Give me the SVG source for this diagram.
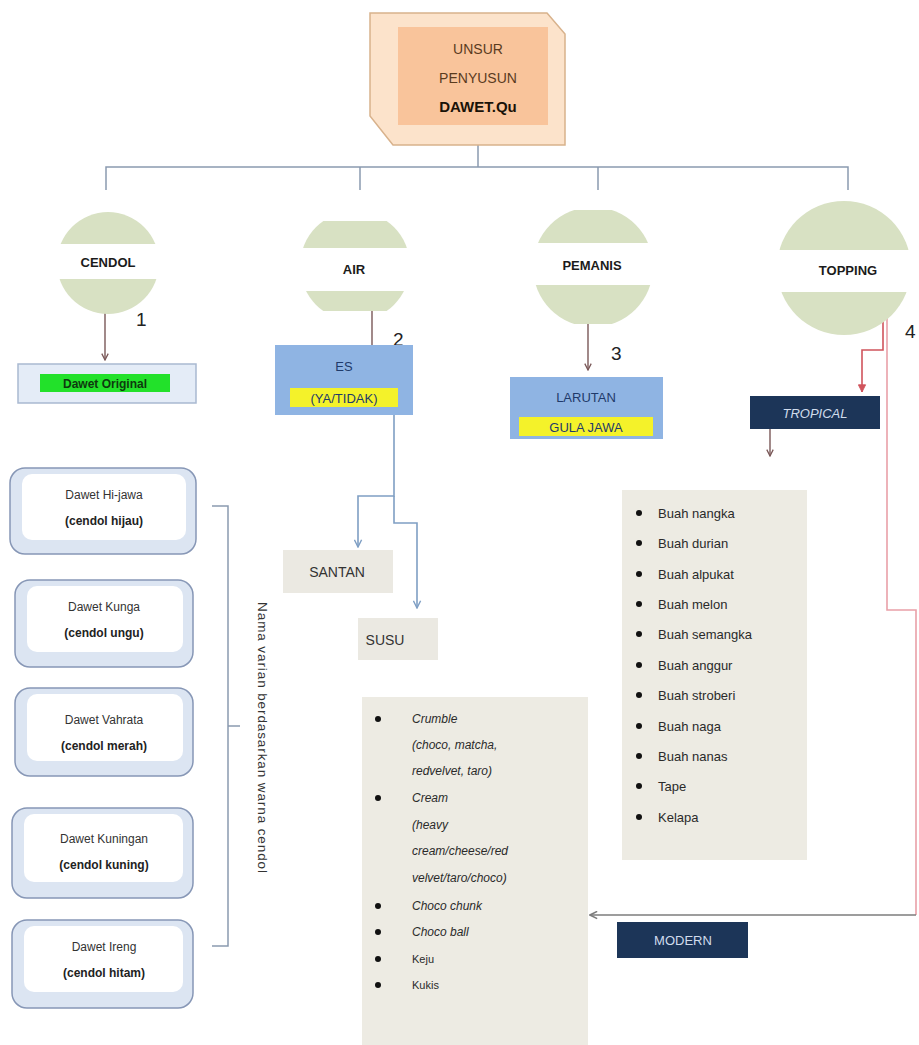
<svg xmlns="http://www.w3.org/2000/svg" width="919" height="1045" viewBox="0 0 919 1045">
  <defs>
    <style>
      text { font-family: "Liberation Sans", "Noto Sans", Arial, sans-serif; }
      .hdr { font-size: 14px; fill: #5a3b1e; text-anchor: middle; }
      .hdrb { font-size: 15px; font-weight: bold; fill: #1a1208; text-anchor: middle; }
      .clab { font-size: 13px; font-weight: bold; fill: #1b1b1b; text-anchor: middle; }
      .num { font-size: 19px; fill: #222; }
      .var1 { font-size: 12px; fill: #333; text-anchor: middle; }
      .var2 { font-size: 12px; font-weight: bold; fill: #222; text-anchor: middle; }
      .li { font-size: 13px; fill: #2a2a2a; }
      .lim { font-size: 12px; fill: #2a2a2a; font-style: italic; }
      .lis { font-size: 11px; fill: #2a2a2a; }
      .dot { fill: #111; }
      .circ { fill: #d8e1c3; }
      .band { fill: #ffffff; }
      .tree { fill: none; stroke: #8a9ab0; stroke-width: 1.5; }
      .arr { fill: none; stroke: #7a5858; stroke-width: 1.4; }
      .blue { fill: none; stroke: #7f9fc4; stroke-width: 1.6; }
      .red { fill: none; stroke: #d0545c; stroke-width: 1.6; }
      .pink { fill: none; stroke: #e9a0a8; stroke-width: 1.6; }
      .grey { fill: none; stroke: #7d7d7d; stroke-width: 1.6; }
      .vbox { fill: #dce5f2; stroke: #8797b6; stroke-width: 1.5; }
      .vin { fill: #ffffff; }
      .list { fill: #edebe3; }
      .navy { fill: #1c3558; }
      .navyt { font-size: 13px; fill: #d0dcec; text-anchor: middle; }
      .bluebox { fill: #8fb4e3; }
      .bt { font-size: 13px; fill: #1f3a6a; text-anchor: middle; }
      .hl { fill: #f4f22a; }
      .sbox { fill: #ebe9e2; }
      .st { font-size: 14px; fill: #333; text-anchor: middle; }
    </style>
    <marker id="ah" viewBox="0 0 10 10" refX="9" refY="5" markerWidth="8" markerHeight="8" orient="auto-start-reverse" markerUnits="userSpaceOnUse">
      <path d="M1,1 L9,5 L1,9" fill="none" stroke="#7a5858" stroke-width="1.6"/>
    </marker>
    <marker id="ahb" viewBox="0 0 10 10" refX="9" refY="5" markerWidth="9" markerHeight="9" orient="auto" markerUnits="userSpaceOnUse">
      <path d="M1,1 L9,5 L1,9" fill="none" stroke="#7f9fc4" stroke-width="1.6"/>
    </marker>
    <marker id="ahr" viewBox="0 0 10 10" refX="9" refY="5" markerWidth="9" markerHeight="9" orient="auto" markerUnits="userSpaceOnUse">
      <path d="M1,1 L9,5 L1,9 Z" fill="#d0545c" stroke="#d0545c" stroke-width="1"/>
    </marker>
    <marker id="ahg" viewBox="0 0 10 10" refX="9" refY="5" markerWidth="9" markerHeight="9" orient="auto" markerUnits="userSpaceOnUse">
      <path d="M1,1 L9,5 L1,9" fill="none" stroke="#7d7d7d" stroke-width="1.8"/>
    </marker>
    <clipPath id="clipAir"><rect x="290" y="221" width="130" height="90"/></clipPath>
    <clipPath id="clipPem"><rect x="520" y="210" width="150" height="114"/></clipPath>
  </defs>

  <rect width="919" height="1045" fill="#ffffff"/>

  <!-- connectors -->
  <g id="connectors">
    <!-- tree from the title box -->
    <path class="tree" d="M478,145 V167 M106,190 V167 H848 V190 M360,167 V190 M598,167 V190"/>
    <!-- numbered arrows -->
    <path class="arr" d="M105,306 V360" marker-end="url(#ah)"/>
    <path class="arr" d="M372,306 V357" marker-end="url(#ah)"/>
    <path class="arr" d="M588,320 V370" marker-end="url(#ah)"/>
    <path class="arr" d="M770,428 V456" marker-end="url(#ah)"/>
    <!-- ES to santan / susu -->
    <path class="blue" d="M394,415 V496 H358 V547" marker-end="url(#ahb)"/>
    <path class="blue" d="M394,496 V523 H417 V608" marker-end="url(#ahb)"/>
    <!-- topping to tropical -->
    <path class="red" d="M883,305 V350 H862 V392" marker-end="url(#ahr)"/>
    <!-- topping to modern -->
    <path class="pink" d="M887,305 V610 H916 V915"/>
    <path class="grey" d="M916,915 H590" marker-end="url(#ahg)"/>
    <!-- bracket beside the variants -->
    <path class="tree" d="M212,506 H228 V946 H212 M228,726 H240"/>
  </g>

  <!-- title -->
  <g id="title">
    <path d="M370,13 H547 L565,34 V145 H393 L370,116 Z" fill="#fce3cb" stroke="#d8b28c" stroke-width="1.5"/>
    <rect x="398" y="27" width="150" height="98" fill="#f9c49b"/>
    <text class="hdr" x="478" y="54">UNSUR</text>
    <text class="hdr" x="478" y="83">PENYUSUN</text>
    <text class="hdrb" x="478" y="112">DAWET.Qu</text>
  </g>

  <!-- main components -->
  <g id="cendol">
    <circle class="circ" cx="108" cy="263" r="51"/>
    <rect class="band" x="55" y="244" width="106" height="35"/>
    <text class="clab" x="108" y="267">CENDOL</text>
  </g>
  <g id="air">
    <circle class="circ" cx="355" cy="266" r="55" clip-path="url(#clipAir)"/>
    <rect class="band" x="298" y="248" width="114" height="43"/>
    <text class="clab" x="354" y="274">AIR</text>
  </g>
  <g id="pemanis">
    <circle class="circ" cx="593" cy="267" r="60" clip-path="url(#clipPem)"/>
    <rect class="band" x="530" y="243" width="126" height="42"/>
    <text class="clab" x="592" y="270">PEMANIS</text>
  </g>
  <g id="topping">
    <circle class="circ" cx="844" cy="268" r="67"/>
    <rect class="band" x="775" y="250" width="140" height="42"/>
    <text class="clab" x="848" y="275">TOPPING</text>
  </g>

  <!-- step numbers -->
  <g id="numbers">
    <text class="num" x="136" y="326">1</text>
    <text class="num" x="393" y="346">2</text>
    <text class="num" x="611" y="360">3</text>
    <text class="num" x="905" y="338">4</text>
  </g>

  <!-- cendol branch -->
  <g id="dawet-original">
    <rect x="18" y="364" width="178" height="39" fill="#e4ecf7" stroke="#a9b9d1" stroke-width="1.5"/>
    <rect x="40" y="374" width="130" height="18" fill="#22e12a"/>
    <text x="105" y="388" font-size="12" font-weight="bold" fill="#0e3a0e" text-anchor="middle">Dawet Original</text>
  </g>
  <g id="dawet-hijawa">
    <rect class="vbox" x="10" y="468" width="186" height="86" rx="15"/>
    <rect class="vin" x="22" y="474" width="164" height="66" rx="10"/>
    <text class="var1" x="104" y="499">Dawet Hi-jawa</text>
    <text class="var2" x="104" y="525">(cendol hijau)</text>
  </g>
  <g id="dawet-kunga">
    <rect class="vbox" x="15" y="580" width="178" height="87" rx="15"/>
    <rect class="vin" x="27" y="586" width="156" height="66" rx="10"/>
    <text class="var1" x="104" y="611">Dawet Kunga</text>
    <text class="var2" x="104" y="637">(cendol ungu)</text>
  </g>
  <g id="dawet-vahrata">
    <rect class="vbox" x="15" y="688" width="178" height="88" rx="15"/>
    <rect class="vin" x="27" y="694" width="156" height="67" rx="10"/>
    <text class="var1" x="104" y="724">Dawet Vahrata</text>
    <text class="var2" x="104" y="750">(cendol merah)</text>
  </g>
  <g id="dawet-kuningan">
    <rect class="vbox" x="12" y="808" width="181" height="90" rx="15"/>
    <rect class="vin" x="24" y="814" width="159" height="68" rx="10"/>
    <text class="var1" x="104" y="843">Dawet Kuningan</text>
    <text class="var2" x="104" y="869">(cendol kuning)</text>
  </g>
  <g id="dawet-ireng">
    <rect class="vbox" x="12" y="920" width="181" height="88" rx="15"/>
    <rect class="vin" x="24" y="926" width="159" height="66" rx="10"/>
    <text class="var1" x="104" y="951">Dawet Ireng</text>
    <text class="var2" x="104" y="977">(cendol hitam)</text>
  </g>
  <g id="variant-note">
    <text x="0" y="0" font-size="13.5" letter-spacing="0.9" fill="#333" text-anchor="middle" transform="translate(258,738) rotate(90)">Nama varian berdasarkan warna cendol</text>
  </g>

  <!-- air branch -->
  <g id="es">
    <rect class="bluebox" x="275" y="345" width="138" height="70"/>
    <text class="bt" x="344" y="371">ES</text>
    <rect class="hl" x="290" y="388" width="108" height="19"/>
    <text class="bt" x="344" y="403" fill="#2a2a10">(YA/TIDAK)</text>
  </g>
  <g id="santan">
    <rect class="sbox" x="283" y="550" width="110" height="43"/>
    <text class="st" x="337" y="577">SANTAN</text>
  </g>
  <g id="susu">
    <rect class="sbox" x="358" y="618" width="80" height="42"/>
    <text class="st" x="385" y="645">SUSU</text>
  </g>

  <!-- pemanis branch -->
  <g id="larutan">
    <rect class="bluebox" x="510" y="377" width="153" height="62"/>
    <text class="bt" x="586" y="402">LARUTAN</text>
    <rect class="hl" x="519" y="417" width="134" height="19"/>
    <text class="bt" x="586" y="432" fill="#2a2a10">GULA JAWA</text>
  </g>

  <!-- topping branch -->
  <g id="tropical">
    <rect class="navy" x="750" y="396" width="130" height="33"/>
    <text class="navyt" x="815" y="418" font-style="italic">TROPICAL</text>
  </g>
  <g id="tropical-list">
    <rect class="list" x="622" y="490" width="185" height="370"/>
    <g class="dot">
      <circle cx="639" cy="513" r="3"/><circle cx="639" cy="543" r="3"/><circle cx="639" cy="574" r="3"/>
      <circle cx="639" cy="604" r="3"/><circle cx="639" cy="634" r="3"/><circle cx="639" cy="665" r="3"/>
      <circle cx="639" cy="695" r="3"/><circle cx="639" cy="726" r="3"/><circle cx="639" cy="756" r="3"/>
      <circle cx="639" cy="786" r="3"/><circle cx="639" cy="817" r="3"/>
    </g>
    <text class="li" x="658" y="518">Buah nangka</text>
    <text class="li" x="658" y="548">Buah durian</text>
    <text class="li" x="658" y="579">Buah alpukat</text>
    <text class="li" x="658" y="609">Buah melon</text>
    <text class="li" x="658" y="639">Buah semangka</text>
    <text class="li" x="658" y="670">Buah anggur</text>
    <text class="li" x="658" y="700">Buah stroberi</text>
    <text class="li" x="658" y="731">Buah naga</text>
    <text class="li" x="658" y="761">Buah nanas</text>
    <text class="li" x="658" y="791">Tape</text>
    <text class="li" x="658" y="822">Kelapa</text>
  </g>
  <g id="modern">
    <rect class="navy" x="617" y="922" width="131" height="36"/>
    <text class="navyt" x="683" y="945">MODERN</text>
  </g>
  <g id="modern-list">
    <rect class="list" x="362" y="697" width="226" height="348"/>
    <g class="dot">
      <circle cx="378" cy="719" r="3"/><circle cx="378" cy="798" r="3"/><circle cx="378" cy="906" r="3"/>
      <circle cx="378" cy="932" r="3"/><circle cx="378" cy="959" r="3"/><circle cx="378" cy="985" r="3"/>
    </g>
    <text class="lim" x="412" y="723">Crumble</text>
    <text class="lim" x="412" y="749">(choco, matcha,</text>
    <text class="lim" x="412" y="775">redvelvet, taro)</text>
    <text class="lim" x="412" y="802">Cream</text>
    <text class="lim" x="412" y="829">(heavy</text>
    <text class="lim" x="412" y="855">cream/cheese/red</text>
    <text class="lim" x="412" y="882">velvet/taro/choco)</text>
    <text class="lim" x="412" y="910">Choco chunk</text>
    <text class="lim" x="412" y="936">Choco ball</text>
    <text class="lis" x="412" y="963">Keju</text>
    <text class="lis" x="412" y="989">Kukis</text>
  </g>
</svg>
